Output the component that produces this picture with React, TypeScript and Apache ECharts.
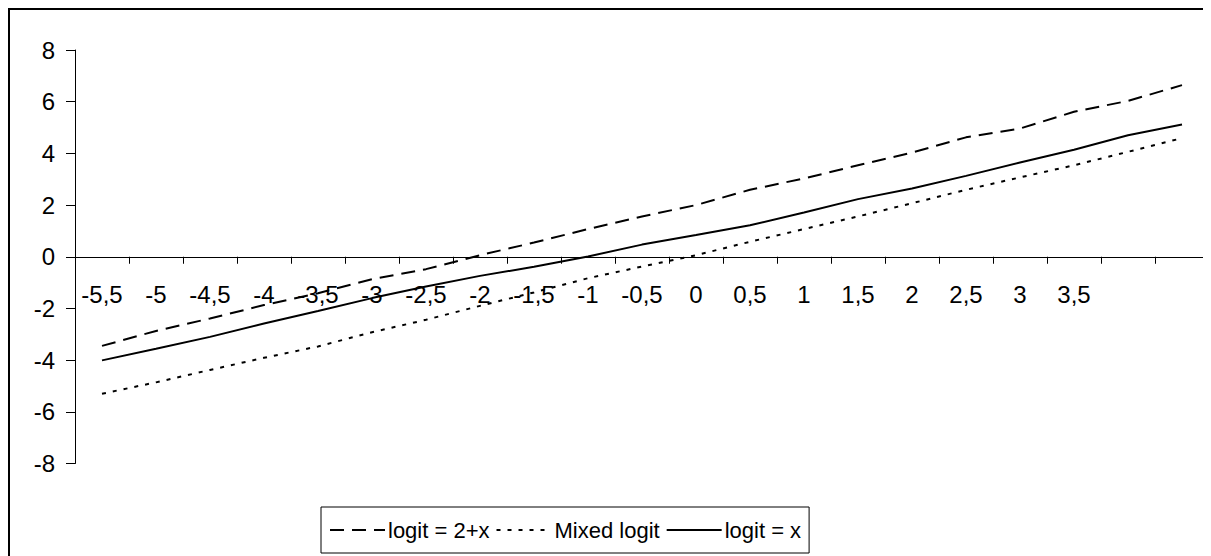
import React, { useEffect, useRef } from "react";
import * as echarts from "echarts";

const categories = [
  "-5,5", "-5", "-4,5", "-4", "-3,5", "-3", "-2,5", "-2", "-1,5", "-1", "-0,5",
  "0", "0,5", "1", "1,5", "2", "2,5", "3", "3,5", "", "",
];

const logitTwoPlusX = [
  -3.45, -2.87, -2.39, -1.87, -1.41, -0.87, -0.48, 0.06, 0.55, 1.07, 1.56,
  2.0, 2.59, 3.03, 3.54, 4.03, 4.62, 4.96, 5.61, 6.03, 6.64,
];

const mixedLogit = [
  -5.3, -4.86, -4.38, -3.91, -3.47, -2.92, -2.44, -1.9, -1.38, -0.83, -0.38,
  0.06, 0.58, 1.07, 1.56, 2.07, 2.59, 3.07, 3.54, 4.06, 4.59,
];

const logitX = [
  -4.01, -3.56, -3.1, -2.58, -2.1, -1.6, -1.15, -0.74, -0.39, 0.01, 0.47,
  0.84, 1.22, 1.71, 2.23, 2.64, 3.13, 3.65, 4.14, 4.7, 5.12,
];

const seriesNames = ["logit = 2+x", "Mixed logit", "logit = x"];
const yTicks = { min: -8, max: 8, interval: 2 };

const FONT = "'Liberation Sans', Arial, sans-serif";

const GRID_TOP = 42;
const GRID_BOTTOM = 92.5;
const HEIGHT = 548;

export default function App() {
  const ref = useRef<HTMLDivElement>(null);

  useEffect(() => {
    if (!ref.current) return;
    const chart = echarts.init(ref.current, undefined, { renderer: "svg" });
    const lineBase = { color: "#000", width: 2 };
    const gridHeight = HEIGHT - GRID_TOP - GRID_BOTTOM;
    const zeroOffset =
      -gridHeight * ((0 - yTicks.min) / (yTicks.max - yTicks.min));
    chart.setOption({
      animation: false,
      backgroundColor: "#fff",
      textStyle: { fontFamily: FONT, color: "#000" },
      grid: { left: 67, top: GRID_TOP, right: 2, bottom: GRID_BOTTOM },
      graphic: [
        {
          type: "rect",
          shape: { x: 1, y: 1, width: 1400, height: 800 },
          style: { fill: "none", stroke: "#000", lineWidth: 2 },
          silent: true,
        },
      ],
      legend: {
        left: 313,
        top: 499,
        width: 491,
        padding: [12, 8],
        itemGap: 6,
        itemWidth: 55,
        itemHeight: 14,
        borderColor: "#000",
        borderWidth: 1,
        itemStyle: { color: "rgba(0,0,0,0)", borderWidth: 0, opacity: 0 },
        textStyle: { fontFamily: FONT, fontSize: 22, color: "#000", padding: [0, 0, 0, -2] },
        data: seriesNames,
      },
      xAxis: {
        type: "category",
        data: categories,
        boundaryGap: true,
        offset: zeroOffset,
        axisLine: { onZero: false, lineStyle: { color: "#000", width: 1 } },
        axisTick: { show: true, length: 7, inside: false, lineStyle: { color: "#000" } },
        axisLabel: {
          interval: 0,
          margin: 26,
          fontSize: 24,
          color: "#000",
          fontFamily: FONT,
        },
        splitLine: { show: false },
      },
      yAxis: {
        type: "value",
        min: yTicks.min,
        max: yTicks.max,
        interval: yTicks.interval,
        axisLine: { show: true, lineStyle: { color: "#000", width: 1 } },
        axisTick: { show: true, length: 9, inside: false, lineStyle: { color: "#000" } },
        axisLabel: { margin: 20, fontSize: 24, color: "#000", fontFamily: FONT },
        splitLine: { show: false },
      },
      series: [
        {
          name: seriesNames[0],
          type: "line",
          data: logitTwoPlusX,
          symbol: "none",
          lineStyle: { ...lineBase, type: [14, 8] },
          itemStyle: { color: "#000" },
        },
        {
          name: seriesNames[1],
          type: "line",
          data: mixedLogit,
          symbol: "none",
          lineStyle: { ...lineBase, type: [4, 7] },
          itemStyle: { color: "#000" },
        },
        {
          name: seriesNames[2],
          type: "line",
          data: logitX,
          symbol: "none",
          lineStyle: { ...lineBase, type: "solid" },
          itemStyle: { color: "#000" },
        },
      ],
    });
    return () => chart.dispose();
  }, []);

  return <div ref={ref} style={{ width: 1203, height: 548 }} />;
}
